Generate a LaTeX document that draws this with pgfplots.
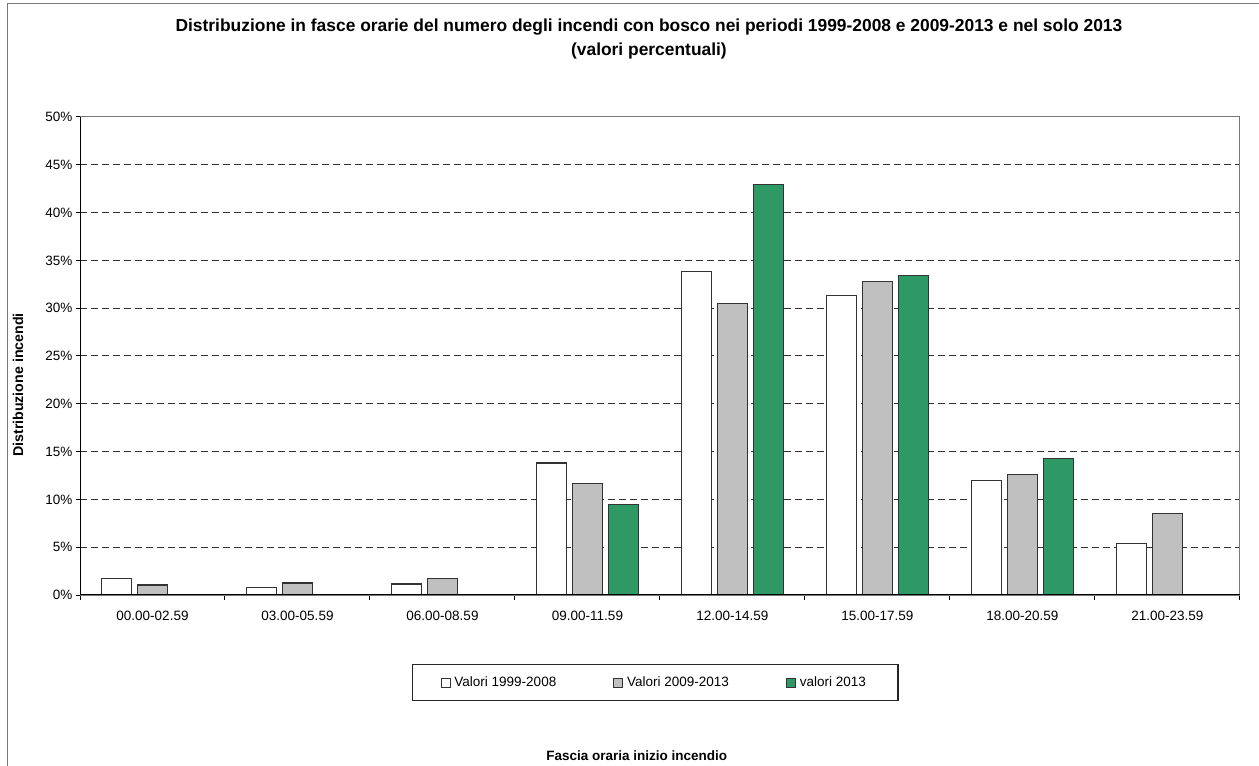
\documentclass[border=0pt]{standalone}
\usepackage{fontspec}
\setmainfont{Liberation Sans}
\usepackage{pgfplots}
\pgfplotsset{compat=1.18}

\definecolor{barwhite}{RGB}{255,255,255}
\definecolor{bargrey}{RGB}{192,192,192}
\definecolor{bargreen}{RGB}{46,153,100}
\definecolor{framegrey}{RGB}{120,120,120}

\begin{document}
\begin{tikzpicture}
\useasboundingbox (0,0) rectangle (1259bp,766bp);
% outer frame of the chart sheet
\draw[framegrey, line width=1.5bp] (7.5bp,0) -- (7.5bp,762.5bp) -- (1259bp,762.5bp);

\begin{axis}[
  at={(80bp,171bp)}, anchor=south west,
  scale only axis, width=1160bp, height=478bp,
  ymin=0, ymax=50,
  xmin=-0.5, xmax=7.5,
  ytick={0,5,...,50},
  yticklabel={\pgfmathprintnumber{\tick}\%},
  /pgf/number format/assume math mode=true,
  xtick={0,...,7},
  xticklabels={00.00-02.59,03.00-05.59,06.00-08.59,09.00-11.59,12.00-14.59,15.00-17.59,18.00-20.59,21.00-23.59},
  minor xtick={-0.5,0.5,...,7.5},
  major x tick style={draw=none},
  minor x tick style={black, line width=1bp},
  minor tick length=5bp,
  major tick length=4bp,
  tick align=outside,
  xtick pos=bottom, ytick pos=left,
  y tick style={black, line width=1bp},
  ymajorgrids,
  major grid style={black!80, line width=1bp, dash pattern=on 7bp off 4bp},
  axis line style={framegrey, line width=1bp},
  tick label style={font=\fontsize{13.5bp}{15bp}\selectfont},
  xticklabel style={yshift=-9bp},
  ybar, bar width=30bp,
  title={Distribuzione in fasce orarie del numero degli incendi con bosco nei periodi 1999-2008 e 2009-2013 e nel solo 2013\\(valori percentuali)},
  title style={at={(axis description cs:0.4905,1.1506)}, anchor=center, align=center, yshift=0pt,
               font=\bfseries\fontsize{17.4bp}{24bp}\selectfont},
  ylabel={Distribuzione incendi},
  ylabel style={at={(axis description cs:-0.0534,0.4393)}, anchor=center,
                font=\bfseries\fontsize{14.2bp}{16bp}\selectfont},
  xlabel={Fascia oraria inizio incendio},
  xlabel style={at={(axis description cs:0.480,-0.3368)}, anchor=center,
                font=\bfseries\fontsize{13.5bp}{15bp}\selectfont},
  legend columns=3,
  legend style={at={(axis description cs:0.2862,-0.1444)}, anchor=north west,
                draw=black!85, line width=1.2bp,
                font=\fontsize{13.5bp}{15bp}\selectfont,
                inner xsep=28bp, inner ysep=10.5bp,
                /tikz/every even column/.append style={column sep=53bp},
                nodes={inner xsep=4bp}},
  legend image code/.code={\draw[#1, line width=0.9bp] (0bp,-4.5bp) rectangle (9bp,4.5bp);},
]
\addplot[fill=barwhite, draw=black!80, line width=1.2bp, bar shift=-36bp]
  coordinates {(0,1.75) (1,0.8) (2,1.15) (3,13.8) (4,33.8) (5,31.3) (6,12.0) (7,5.4)};
\addplot[fill=bargrey, draw=black!80, line width=1.2bp, bar shift=0bp]
  coordinates {(0,1.05) (1,1.25) (2,1.75) (3,11.7) (4,30.5) (5,32.8) (6,12.6) (7,8.5)};
\addplot[fill=bargreen, draw=black!80, line width=1.2bp, bar shift=36bp]
  coordinates {(0,0) (1,0) (2,0) (3,9.5) (4,42.9) (5,33.4) (6,14.25) (7,0)};
\legend{Valori 1999-2008,Valori 2009-2013,valori 2013}
% left and bottom axis lines in black
\draw[black, line width=1.2bp] (rel axis cs:0,1) -- (rel axis cs:0,0) -- (rel axis cs:1,0);
\end{axis}
\end{tikzpicture}
\end{document}
